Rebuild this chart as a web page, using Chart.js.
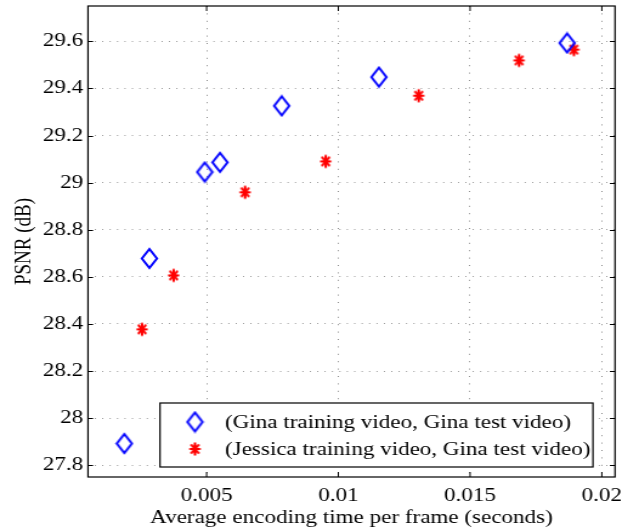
<!DOCTYPE html>
<html>
<head>
<meta charset="utf-8">
<script src="https://cdn.jsdelivr.net/npm/chart.js@4/dist/chart.umd.min.js"></script>
<style>
  html, body { margin: 0; padding: 0; background: #fff; overflow: hidden; }
  #wrap { width: 622px; height: 531px; }
  /* the reference figure is stretched sideways, so the canvas is too */
  #psnrChart { transform: scaleX(1.2148); transform-origin: 0 0; }
</style>
</head>
<body>
<div id="wrap"><canvas id="psnrChart" width="512" height="531"></canvas></div>
<script>
// values
const ginaTime = [0.00188, 0.00283, 0.00493, 0.00551, 0.00785, 0.01154, 0.01868];
const ginaPsnr = [27.892, 28.678, 29.045, 29.086, 29.326, 29.448, 29.593];
const jessicaTime = [0.00255, 0.00375, 0.00646, 0.00952, 0.01305, 0.01686, 0.01894];
const jessicaPsnr = [28.377, 28.606, 28.959, 29.090, 29.369, 29.519, 29.565];
const seriesLabels = ['(Gina training video, Gina test video)', '(Jessica training video, Gina test video)'];
const xTicks = [0.005, 0.01, 0.015, 0.02];
const yTicks = [27.8, 28, 28.2, 28.4, 28.6, 28.8, 29, 29.2, 29.4, 29.6];

const FONT = 'Liberation Serif, Times New Roman, serif';

// hollow diamond, taller than wide
function makeDiamond() {
    const c = document.createElement('canvas');
    c.width = 16; c.height = 23;
    const g = c.getContext('2d');
    g.strokeStyle = '#0000ff';
    g.lineWidth = 2;
    g.beginPath();
    g.moveTo(8, 2);
    g.lineTo(14.2, 11.5);
    g.lineTo(8, 21);
    g.lineTo(1.8, 11.5);
    g.closePath();
    g.stroke();
    return c;
}

// asterisk marker: plus and cross together
function makeStar() {
    const c = document.createElement('canvas');
    c.width = 12; c.height = 16;
    const g = c.getContext('2d');
    g.strokeStyle = '#ff0000';
    g.lineWidth = 2;
    g.lineCap = 'butt';
    const cx = 6, cy = 8, rx = 4.6, ry = 6.5;
    g.beginPath();
    g.moveTo(cx, cy - ry); g.lineTo(cx, cy + ry);
    g.moveTo(cx - rx, cy); g.lineTo(cx + rx, cy);
    g.moveTo(cx - rx * 0.72, cy - ry * 0.72); g.lineTo(cx + rx * 0.72, cy + ry * 0.72);
    g.moveTo(cx + rx * 0.72, cy - ry * 0.72); g.lineTo(cx - rx * 0.72, cy + ry * 0.72);
    g.stroke();
    return c;
}

const diamond = makeDiamond();
const star = makeStar();

function toPoints(xs, ys) {
    return xs.map((x, i) => ({ x: x, y: ys[i] }));
}

// box around the plot plus inward ticks on all four sides
const boxTicks = {
    id: 'boxTicks',
    afterDraw(chart) {
        const { ctx, chartArea: a, scales } = chart;
        ctx.save();
        ctx.strokeStyle = '#000';
        ctx.lineWidth = 1;
        ctx.beginPath();
        scales.x.ticks.forEach(t => {
            const px = scales.x.getPixelForValue(t.value);
            ctx.moveTo(px, a.bottom); ctx.lineTo(px, a.bottom - 5);
            ctx.moveTo(px, a.top); ctx.lineTo(px, a.top + 5);
        });
        scales.y.ticks.forEach(t => {
            const py = Math.round(scales.y.getPixelForValue(t.value)) + 0.5;
            ctx.moveTo(a.left, py); ctx.lineTo(a.left + 4.2, py);
            ctx.moveTo(a.right, py); ctx.lineTo(a.right - 4.2, py);
        });
        ctx.stroke();
        ctx.lineWidth = 1.2;
        ctx.strokeRect(a.left, a.top, a.right - a.left, a.bottom - a.top);
        ctx.restore();
    }
};

// legend box inside the lower right of the plot
const innerLegend = {
    id: 'innerLegend',
    afterDraw(chart) {
        const ctx = chart.ctx;
        const box = { left: 131.7, top: 403, right: 488.1, bottom: 467 };
        ctx.save();
        ctx.fillStyle = '#fff';
        ctx.fillRect(box.left, box.top, box.right - box.left, box.bottom - box.top);
        ctx.strokeStyle = '#000';
        ctx.lineWidth = 1.2;
        ctx.strokeRect(box.left, box.top, box.right - box.left, box.bottom - box.top);
        const rows = [422, 449];
        chart.data.datasets.forEach((ds, i) => {
            Chart.helpers.drawPoint(ctx, {
                pointStyle: ds.pointStyle, radius: ds.pointRadius, rotation: 0, borderWidth: 0
            }, 160.5, rows[i]);
            ctx.fillStyle = '#000';
            ctx.font = '19px ' + FONT;
            ctx.textBaseline = 'middle';
            ctx.textAlign = 'left';
            ctx.fillText(ds.label, 185.2, rows[i] + 1);
        });
        ctx.restore();
    }
};

new Chart(document.getElementById('psnrChart'), {
    type: 'scatter',
    data: {
        datasets: [{
            label: seriesLabels[0],
            data: toPoints(ginaTime, ginaPsnr),
            pointStyle: diamond,
            pointRadius: 9,
            borderColor: '#0000ff',
            backgroundColor: 'rgba(0,0,0,0)'
        }, {
            label: seriesLabels[1],
            data: toPoints(jessicaTime, jessicaPsnr),
            pointStyle: star,
            pointRadius: 7,
            borderColor: '#ff0000',
            backgroundColor: '#ff0000'
        }]
    },
    options: {
        responsive: false,
        animation: false,
        events: [],
        layout: { autoPadding: false, padding: { top: 6, right: 5.74, left: 0, bottom: 0 } },
        plugins: {
            legend: { display: false },
            tooltip: { enabled: false }
        },
        scales: {
            x: {
                type: 'linear',
                min: 0.0005,
                max: 0.0205,
                afterBuildTicks: s => { s.ticks = xTicks.map(v => ({ value: v })); },
                afterFit: s => { s.height = 54; s.paddingLeft = 0; s.paddingRight = 0; },
                ticks: {
                    color: '#000',
                    padding: 8,
                    font: { family: FONT, size: 19 },
                    maxRotation: 0,
                    callback: v => String(v)
                },
                grid: { color: '#8c8c8c', lineWidth: 1, drawTicks: false },
                border: { display: false, dash: [1, 6.4] },
                title: {
                    display: true,
                    text: 'Average encoding time per frame (seconds)',
                    color: '#000',
                    font: { family: FONT, size: 19 },
                    padding: { top: 0, bottom: 2 }
                }
            },
            y: {
                type: 'linear',
                min: 27.75,
                max: 29.75,
                afterBuildTicks: s => { s.ticks = yTicks.map(v => ({ value: v })); },
                afterFit: s => { s.width = 72.44; s.paddingTop = 0; s.paddingBottom = 0; },
                ticks: {
                    color: '#000',
                    padding: 4,
                    font: { family: FONT, size: 19 },
                    callback: v => String(v)
                },
                grid: { color: '#8c8c8c', lineWidth: 1, drawTicks: false },
                border: { display: false, dash: [0.85, 5.25] },
                title: {
                    display: true,
                    text: 'PSNR (dB)',
                    color: '#000',
                    font: { family: FONT, size: 19 },
                    padding: { top: 8.4, bottom: 0 }
                }
            }
        }
    },
    plugins: [boxTicks, innerLegend]
});
</script>
</body>
</html>
